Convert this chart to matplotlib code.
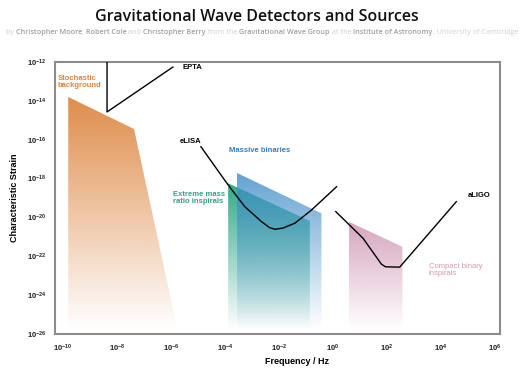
import numpy as np
import matplotlib
matplotlib.use("Agg")
import matplotlib.pyplot as plt
from matplotlib.patches import Polygon
from matplotlib.colors import to_rgb

plt.rcParams['font.family'] = ['Liberation Sans', 'DejaVu Sans']
plt.rcParams['mathtext.default'] = 'regular'

# all values are log10(frequency / Hz) and log10(characteristic strain)
stoch_f = [-9.81, -7.37, -5.72, -9.81]
stoch_h = [-13.80, -15.45, -26.0, -26.0]

emri_f = [-3.88, -0.85, -0.85, -3.88]
emri_h = [-18.24, -20.18, -26.0, -26.0]

mbh_f = [-3.57, -0.42, -0.42, -3.57]
mbh_h = [-17.70, -19.79, -26.0, -26.0]

cbc_f = [0.59, 2.58, 2.58, 0.59]
cbc_h = [-20.22, -21.51, -26.0, -26.0]

epta_f = [-8.37, -8.37, -5.93]
epta_h = [-12.0, -14.57, -12.26]

elisa_f = [-4.89, -3.88, -3.26, -2.64, -2.35, -2.15, -1.85, -1.41, -0.79, 0.14]
elisa_h = [-16.36, -18.33, -19.45, -20.22, -20.52, -20.61, -20.55, -20.30, -19.62, -18.42]

aligo_f = [0.11, 1.12, 1.80, 1.95, 2.48, 2.58, 4.58]
aligo_h = [-19.70, -21.07, -22.40, -22.54, -22.56, -22.40, -19.19]

xticks = np.arange(-10, 7, 2)
yticks = np.arange(-26, -11, 2)


def gradient_fill(ax, xs, ys, color, top_alpha, y_fade=-25.8):
    poly = Polygon(np.column_stack([xs, ys]), closed=True, facecolor="none", edgecolor="none")
    ax.add_patch(poly)
    top = max(ys)
    n = 256
    img = np.zeros((n, 1, 4))
    img[:, 0, :3] = to_rgb(color)
    img[:, 0, 3] = np.linspace(top_alpha, 0.0, n)
    im = ax.imshow(img, extent=[min(xs), max(xs), y_fade, top], aspect="auto",
                   origin="upper", zorder=1)
    im.set_clip_path(poly)


fig = plt.figure(figsize=(5.25, 3.75), dpi=100)
ax = fig.add_axes([55 / 525, 1 - 334 / 375, 445 / 525, 272 / 375])

gradient_fill(ax, stoch_f, stoch_h, "#dd8640", 0.95)
gradient_fill(ax, emri_f, emri_h, "#27a585", 0.95)
gradient_fill(ax, mbh_f, mbh_h, "#3c8bc6", 0.8)
gradient_fill(ax, cbc_f, cbc_h, "#d4a0ba", 0.95)

ax.plot(epta_f, epta_h, color="black", lw=1.0, zorder=3)
ax.plot(elisa_f, elisa_h, color="black", lw=1.0, zorder=3)
ax.plot(aligo_f, aligo_h, color="black", lw=1.0, zorder=3)

lab = dict(fontsize=5.5, fontweight="bold", zorder=4)
ax.text(-10.19, -13.05, "Stochastic\nbackground", color="#d9843b", va="center", ha="left",
        linespacing=1.0, **lab)
ax.text(-5.56, -12.26, "EPTA", color="black", va="center", **lab)
ax.text(-5.67, -16.07, "eLISA", color="black", va="center", **lab)
ax.text(-3.85, -16.58, "Massive binaries", color="#2f7fc1", va="center", **lab)
ax.text(-5.93, -19.02, "Extreme mass\nratio inspirals", color="#2aa58a", va="center",
        linespacing=1.0, **lab)
ax.text(5.0, -18.85, "aLIGO", color="black", va="center", **lab)
ax.text(3.56, -22.7, "Compact binary\ninspirals", color="#d49ab0", va="center",
        fontsize=5.5, linespacing=1.0, zorder=4)

ax.set_xlim(-10.3, 6.2)
ax.set_ylim(-26, -12)
ax.set_xticks(xticks)
ax.set_yticks(yticks)
ax.set_xticklabels([f"$10^{{{k}}}$" for k in xticks])
ax.set_yticklabels([f"$10^{{{k}}}$" for k in yticks])
ax.tick_params(length=0, labelsize=5.5, colors="#222222", pad=6)
for t in ax.get_xticklabels() + ax.get_yticklabels():
    t.set_fontweight("bold")
for s in ax.spines.values():
    s.set_color("#8c8c8c")
    s.set_linewidth(1.5)

fig.text(15 / 525, 1 - 198 / 375, "Characteristic Strain", rotation=90, ha="center",
         va="center", fontsize=6.5, fontweight="bold")
fig.text(297 / 525, 1 - 361 / 375, "Frequency / Hz", ha="center", va="center",
         fontsize=6.5, fontweight="bold")

fig.text(257 / 525, 1 - 17 / 375, "Gravitational Wave Detectors and Sources", ha="center",
         va="center", fontsize=11.5, family="Open Sans", fontweight="semibold", color="#111111")

# credit line: alternating light and darker grey pieces
parts = [("by ", False), ("Christopher Moore", True), (", ", False), ("Robert Cole", True),
         (" and ", False), ("Christopher Berry", True), (" from the ", False),
         ("Gravitational Wave Group", True), (" at the ", False),
         ("Institute of Astronomy", True), (", University of Cambridge", False)]
renderer = fig.canvas.get_renderer()
pieces = []
x = 0
for txt, strong in parts:
    t = fig.text(0, 1 - 33 / 375, txt, ha="left", va="center", fontsize=5.2,
                 family="Open Sans", fontweight="semibold" if strong else "normal",
                 color="#a0a0a0" if strong else "#d0d0d0")
    w = t.get_window_extent(renderer).width
    pieces.append((t, x))
    x += w
start = 262 - x / 2
for t, off in pieces:
    t.set_x((start + off) / 525)

fig.savefig("out.png", dpi=100)
